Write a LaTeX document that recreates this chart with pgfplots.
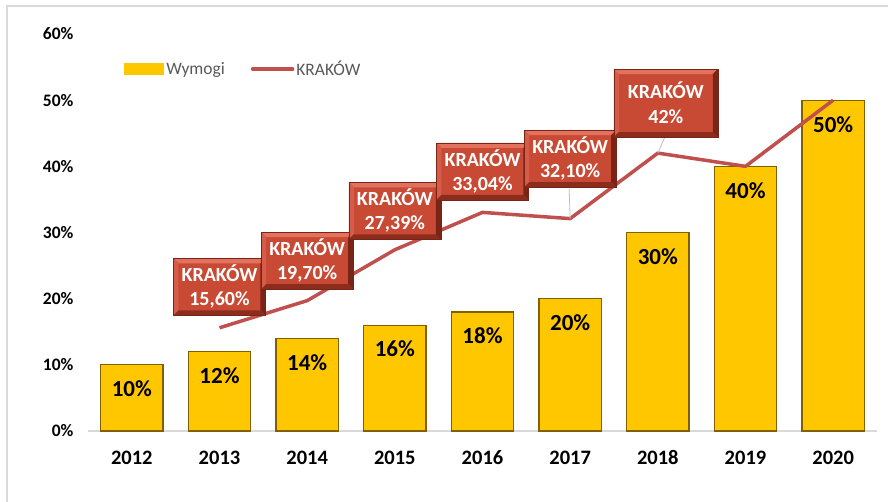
\documentclass[border=0pt]{standalone}
\usepackage{fontspec}
\setmainfont{Carlito}
\usepackage{pgfplots}
\pgfplotsset{compat=1.18}
\definecolor{barcol}{RGB}{255,199,0}
\definecolor{bardark}{RGB}{128,96,0}
\definecolor{krak}{RGB}{192,80,77}
\definecolor{boxcol}{RGB}{201,74,52}
\definecolor{boxlight}{RGB}{226,114,94}
\definecolor{boxmid}{RGB}{212,92,72}
\definecolor{boxdark}{RGB}{120,36,22}
\definecolor{boxbot}{RGB}{140,44,28}
\definecolor{gridgray}{RGB}{217,217,217}
\definecolor{legtext}{RGB}{89,89,89}
\tikzset{
  bevel/.style n args={5}{path picture={
    \fill[#2] (path picture bounding box.north west) -- (path picture bounding box.north east)
      -- ([shift={(-#1,-#1)}]path picture bounding box.north east) -- ([shift={(#1,-#1)}]path picture bounding box.north west) -- cycle;
    \fill[#3] (path picture bounding box.north west) -- ([shift={(#1,-#1)}]path picture bounding box.north west)
      -- ([shift={(#1,#1)}]path picture bounding box.south west) -- (path picture bounding box.south west) -- cycle;
    \fill[#4] (path picture bounding box.north east) -- (path picture bounding box.south east)
      -- ([shift={(-#1,#1)}]path picture bounding box.south east) -- ([shift={(-#1,-#1)}]path picture bounding box.north east) -- cycle;
    \fill[#5] (path picture bounding box.south west) -- (path picture bounding box.south east)
      -- ([shift={(-#1,#1)}]path picture bounding box.south east) -- ([shift={(#1,#1)}]path picture bounding box.south west) -- cycle;
  }},
  kbox/.style={fill=boxcol, draw=boxdark, line width=0.6bp, text=white,
    font=\fontsize{20bp}{24bp}\selectfont\bfseries, align=center,
    minimum width=92bp, minimum height=57bp, inner sep=0pt,
    bevel={5bp}{boxlight}{boxmid}{boxdark}{boxbot}},
  leader/.style={draw={rgb,255:red,191;green,191;blue,191}, line width=0.8bp}
}
\pgfplotstableread{
x y
0 10
1 12
2 14
3 16
4 18
5 20
6 30
7 40
8 50
}\wymogi
\pgfplotstableread{
x y
1 15.60
2 19.70
3 27.39
4 33.04
5 32.10
6 42
7 40
8 50
}\krakow
\begin{document}
\begin{tikzpicture}
\useasboundingbox (-88bp,-71bp) rectangle (800bp,431bp);
\draw[gridgray, line width=1.5bp] (-81bp,-80bp) -- (-81bp,425bp) -- (810bp,425bp);
\begin{axis}[
  at={(0,0)}, anchor=south west,
  scale only axis, width=789bp, height=397bp,
  xmin=-0.5, xmax=8.5, ymin=0, ymax=60,
  axis line style={draw=none},
  major tick length=0pt,
  xtick={0,...,8},
  xticklabels={2012,2013,2014,2015,2016,2017,2018,2019,2020},
  ytick={0,10,...,60},
  yticklabel={\pgfmathprintnumber{\tick}\%},
  /pgf/number format/assume math mode=true,
  yticklabel style={font=\fontsize{17.5bp}{20bp}\selectfont\bfseries, xshift=-11bp},
  xticklabel style={font=\fontsize{20.5bp}{24bp}\selectfont\bfseries, yshift=-15bp,
    text height=14.5bp, text depth=0pt},
  extra y ticks={0}, extra y tick labels={},
  extra tick style={grid=major, grid style={gridgray, line width=1.2bp}},
  clip=false,
  legend style={at={(0.0456,0.912)}, anchor=west, draw=none, fill=none,
    inner sep=0pt, font=\fontsize{17.5bp}{20bp}\selectfont, text=legtext,
    /tikz/every even column/.append style={column sep=24bp}},
  legend columns=2,
  legend cell align=left,
]
\addplot[ybar, bar width=0.71, fill=barcol, draw=bardark, line width=1.2bp,
  nodes near coords={\pgfmathprintnumber{\pgfplotspointmeta}\%},
  nodes near coords align={center},
  every node near coord/.append style={font=\fontsize{23bp}{26bp}\selectfont\bfseries, text=black, yshift=-24bp},
  legend image code/.code={\fill[barcol] (0bp,-5bp) rectangle (39bp,5bp);}
] table[x=x,y=y] {\wymogi};
\addlegendentry{Wymogi}
\addplot[krak, line width=3.5bp, line join=round, no marks,
  legend image code/.code={\draw[krak, line width=3.5bp, line cap=round] (1bp,0bp) -- (41bp,0bp);}
] table[x=x,y=y] {\krakow};
\addlegendentry{KRAKÓW}
\draw[leader] (axis cs:5,32.10) -- ++(-1bp,30bp);
\draw[leader] (axis cs:6,42) -- ++(7bp,16bp);
\node[kbox] at (axis cs:1,15.60) [yshift=41bp] {KRAKÓW\\15,60\%};
\node[kbox] at (axis cs:2,19.70) [yshift=40bp] {KRAKÓW\\19,70\%};
\node[kbox] at (axis cs:3,27.39) [yshift=39bp] {KRAKÓW\\27,39\%};
\node[kbox] at (axis cs:4,33.04) [yshift=41bp] {KRAKÓW\\33,04\%};
\node[kbox] at (axis cs:5,32.10) [yshift=60bp] {KRAKÓW\\32,10\%};
\node[kbox, minimum width=104bp, minimum height=68bp, font=\fontsize{20bp}{25bp}\selectfont\bfseries] at (axis cs:6,42) [xshift=8bp, yshift=50bp] {KRAKÓW\\42\%};
\end{axis}
\end{tikzpicture}
\end{document}
